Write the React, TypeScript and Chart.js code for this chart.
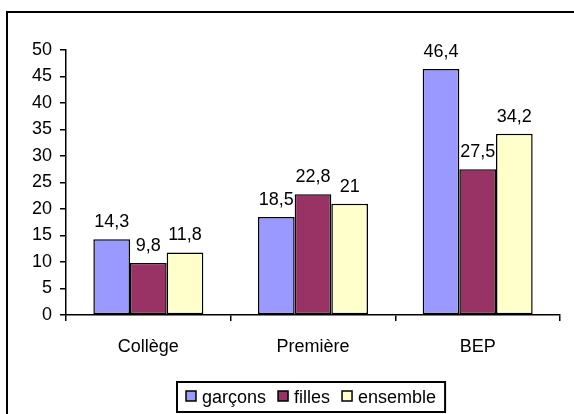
import React, { useEffect, useRef } from "react";
import { Chart, registerables } from "chart.js";

Chart.register(...registerables);

const categories = ["Collège", "Première", "BEP"];
const seriesLabels = ["garçons", "filles", "ensemble"];
const garcons = [14.3, 18.5, 46.4];
const filles = [9.8, 22.8, 27.5];
const ensemble = [11.8, 21, 34.2];
const seriesColors = ["#9999FF", "#993366", "#FFFFCC"];
const yMin = 0;
const yMax = 50;
const yStep = 5;

const FONT = "'Liberation Sans', Arial, Helvetica, sans-serif";

const framePlugin = {
  id: "frame",
  beforeDraw(chart: any) {
    const ctx = chart.ctx;
    ctx.save();
    ctx.fillStyle = "#ffffff";
    ctx.fillRect(0, 0, chart.width, chart.height);
    ctx.strokeStyle = "#000000";
    ctx.lineWidth = 2;
    ctx.strokeRect(7, 12, 700, 600);
    ctx.restore();
  },
};

const valueLabelPlugin = {
  id: "valueLabels",
  afterDatasetsDraw(chart: any) {
    const ctx = chart.ctx;
    ctx.save();
    ctx.font = `18px ${FONT}`;
    ctx.fillStyle = "#000000";
    ctx.textAlign = "center";
    ctx.textBaseline = "alphabetic";
    chart.data.datasets.forEach((ds: any, i: number) => {
      const meta = chart.getDatasetMeta(i);
      meta.data.forEach((el: any, j: number) => {
        const v = ds.data[j];
        const txt = String(v).replace(".", ",");
        ctx.fillText(txt, el.x, el.y - 12);
      });
    });
    ctx.restore();
  },
};

const legendPlugin = {
  id: "boxLegend",
  afterDraw(chart: any) {
    const ctx = chart.ctx;
    ctx.save();
    ctx.font = `18px ${FONT}`;
    const boxX = 177;
    const boxY = 382;
    const boxH = 30;
    const sw = 10;
    const items = chart.data.datasets.map((ds: any) => ({
      label: ds.label,
      color: ds.backgroundColor,
      w: ctx.measureText(ds.label).width,
    }));
    let x = boxX + 9;
    const cy = boxY + boxH / 2;
    const positions: number[] = [];
    items.forEach((it: any, i: number) => {
      positions.push(x);
      x += sw + 6 + it.w + (i < items.length - 1 ? 12 : 9);
    });
    const boxW = x - boxX;
    ctx.strokeStyle = "#000";
    ctx.lineWidth = 2;
    ctx.strokeRect(boxX, boxY, boxW, boxH);
    items.forEach((it: any, i: number) => {
      const px = positions[i];
      const sy = cy - sw / 2 - 1;
      ctx.fillStyle = it.color;
      ctx.fillRect(px, sy, sw, sw);
      ctx.lineWidth = 1.5;
      ctx.strokeStyle = "#000";
      ctx.strokeRect(px, sy, sw, sw);
      ctx.fillStyle = "#000";
      ctx.textAlign = "left";
      ctx.textBaseline = "middle";
      ctx.fillText(it.label, px + sw + 6, cy + 1);
    });
    ctx.restore();
  },
};

export default function App() {
  const ref = useRef<HTMLCanvasElement>(null);
  useEffect(() => {
    document.body.style.margin = "0";
    const canvas = ref.current!;
    const chart = new Chart(canvas, {
      type: "bar",
      data: {
        labels: categories,
        datasets: [garcons, filles, ensemble].map((d, i) => ({
          label: seriesLabels[i],
          data: d,
          backgroundColor: seriesColors[i],
          borderColor: "#000000",
          borderWidth: 1.5,
          borderSkipped: false,
          categoryPercentage: 0.668,
          barPercentage: 1,
        })),
      },
      options: {
        responsive: false,
        animation: false,
        devicePixelRatio: 1,
        layout: { padding: { left: 0, top: 50, right: 14, bottom: 0 } },
        plugins: {
          legend: { display: false },
          tooltip: { enabled: false },
          title: { display: false },
        },
        scales: {
          x: {
            grid: {
              offset: true,
              drawOnChartArea: false,
              drawTicks: true,
              tickLength: 6,
              color: "#000000",
              lineWidth: 1.5,
            },
            border: { display: true, color: "#000000", width: 1.5 },
            ticks: {
              color: "#000000",
              font: { family: FONT, size: 18 },
              padding: 15,
            },
            afterFit(scale: any) {
              scale.height = 99;
            },
          },
          y: {
            min: yMin,
            max: yMax,
            grid: {
              drawOnChartArea: false,
              drawTicks: true,
              tickLength: 6,
              color: "#000000",
              lineWidth: 1.5,
            },
            border: { display: true, color: "#000000", width: 1.5 },
            ticks: {
              stepSize: yStep,
              color: "#000000",
              font: { family: FONT, size: 18 },
              padding: 8,
            },
            afterFit(scale: any) {
              scale.width = 66;
            },
          },
        },
      },
      plugins: [framePlugin, valueLabelPlugin, legendPlugin],
    });
    return () => chart.destroy();
  }, []);
  return (
    <div style={{ position: "absolute", left: 0, top: 0, width: 574, height: 414 }}>
      <canvas ref={ref} width={574} height={414} style={{ display: "block" }} />
    </div>
  );
}
